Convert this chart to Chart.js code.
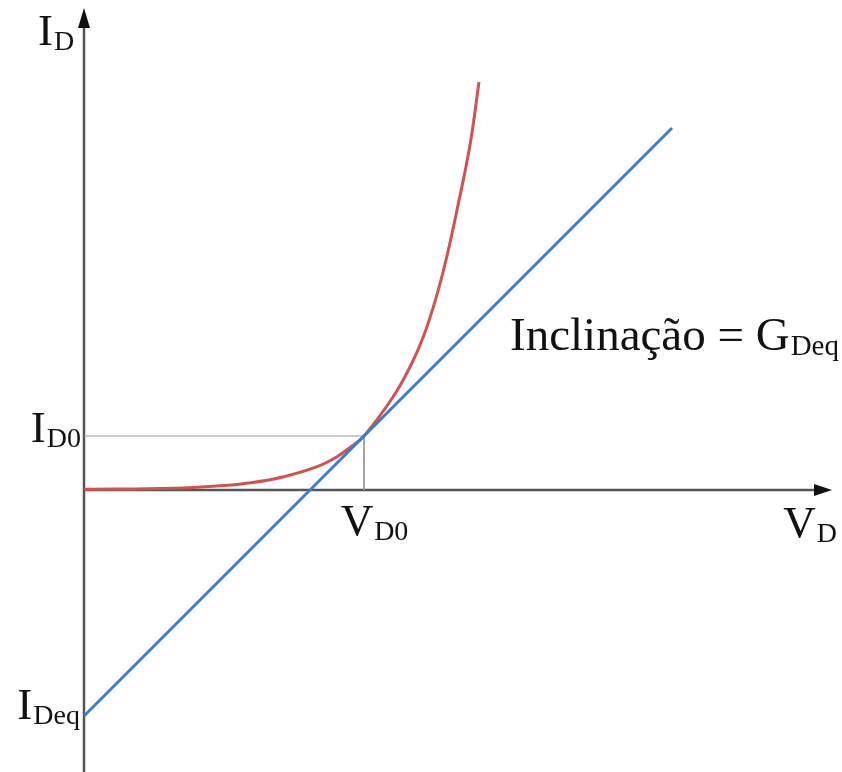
<!DOCTYPE html>
<html>
<head>
<meta charset="utf-8">
<script src="https://cdn.jsdelivr.net/npm/chart.js@4/dist/chart.umd.min.js"></script>
<style>
  html, body { margin: 0; padding: 0; background: #fff; }
  canvas { display: block; }
</style>
</head>
<body>
<canvas id="diodeChart" width="842" height="772"></canvas>
<script>
// Diode curve (units are arbitrary)
const curveV = [0, 90, 133, 167, 200, 233, 253, 267, 280, 309, 327, 340, 352, 362, 373, 386, 395];
const curveI = [0.7, 1.7, 4, 7.3, 13.3, 23.3, 33.3, 43.3, 54, 93, 125, 155, 192, 230, 280, 345, 408];

// Tangent line through the operating point
const tangentV = [0, 588];
const tangentI = [-226, 362];

// Operating point and intercept
const VD0 = 280;
const ID0 = 54;
const IDeq = -226;

// Axis ranges
const vRange = [0, 748];
const iRange = [-282, 480];

// Labels: [main, subscript]
const labelID = ['I', 'D'];
const labelVD = ['V', 'D'];
const labelID0 = ['I', 'D0'];
const labelVD0 = ['V', 'D0'];
const labelIDeq = ['I', 'Deq'];
const labelSlope = ['Inclinação = G', 'Deq'];

function toPoints(xs, ys) {
    return xs.map((x, i) => ({ x: x, y: ys[i] }));
}

const serif = '"Liberation Serif", "Times New Roman", serif';

// draws "main" + subscript, anchored at left/right/center and main baseline
function drawLabel(ctx, parts, x, y, align, size) {
    size = size || 45;
    const mainFont = size + 'px ' + serif;
    const subFont = Math.round(size * 0.62) + 'px ' + serif;
    ctx.font = mainFont;
    const w1 = ctx.measureText(parts[0]).width;
    ctx.font = subFont;
    const w2 = ctx.measureText(parts[1]).width;
    let left = x;
    if (align === 'right') left = x - w1 - w2 - 1;
    if (align === 'center') left = x - (w1 + w2) / 2;
    ctx.fillStyle = '#111';
    ctx.textBaseline = 'alphabetic';
    ctx.textAlign = 'left';
    ctx.font = mainFont;
    ctx.fillText(parts[0], left, y);
    ctx.font = subFont;
    ctx.fillText(parts[1], left + w1 + 1, y + 5);
}

const axesPlugin = {
    id: 'axesPlugin',
    beforeDatasetsDraw(chart) {
        const ctx = chart.ctx;
        const xs = chart.scales.x;
        const ys = chart.scales.y;
        const x0 = xs.getPixelForValue(0);
        const y0 = ys.getPixelForValue(0);
        const xEnd = xs.getPixelForValue(vRange[1]);
        const yTop = ys.getPixelForValue(iRange[1]);
        ctx.save();
        ctx.strokeStyle = '#555';
        ctx.fillStyle = '#111';
        ctx.lineWidth = 2.5;
        // vertical axis
        ctx.beginPath();
        ctx.moveTo(x0, chart.height);
        ctx.lineTo(x0, yTop + 14);
        ctx.stroke();
        ctx.beginPath();
        ctx.moveTo(x0, yTop - 2);
        ctx.lineTo(x0 - 6, yTop + 18);
        ctx.lineTo(x0 + 6, yTop + 18);
        ctx.closePath();
        ctx.fill();
        // horizontal axis
        ctx.beginPath();
        ctx.moveTo(x0, y0);
        ctx.lineTo(xEnd - 14, y0);
        ctx.stroke();
        ctx.beginPath();
        ctx.moveTo(xEnd, y0);
        ctx.lineTo(xEnd - 18, y0 - 6);
        ctx.lineTo(xEnd - 18, y0 + 6);
        ctx.closePath();
        ctx.fill();
        ctx.restore();
    },
    afterDraw(chart) {
        const ctx = chart.ctx;
        const xs = chart.scales.x;
        const ys = chart.scales.y;
        const x0 = xs.getPixelForValue(0);
        const y0 = ys.getPixelForValue(0);
        ctx.save();
        drawLabel(ctx, labelID, 38, ys.getPixelForValue(iRange[1]) + 35, 'left');
        drawLabel(ctx, labelVD, xs.getPixelForValue(vRange[1]) + 5, y0 + 47, 'right');
        drawLabel(ctx, labelID0, x0 - 3, ys.getPixelForValue(ID0) + 6, 'right');
        drawLabel(ctx, labelVD0, xs.getPixelForValue(VD0) + 10, y0 + 45, 'center');
        drawLabel(ctx, labelIDeq, x0 - 4, ys.getPixelForValue(IDeq) + 3, 'right');
        drawLabel(ctx, labelSlope, 510, 350, 'left', 47);
        ctx.restore();
    }
};

const ctx = document.getElementById('diodeChart').getContext('2d');
const chart = new Chart(ctx, {
    type: 'scatter',
    data: {
        datasets: [{
            label: 'Tangente',
            data: toPoints(tangentV, tangentI),
            showLine: true,
            borderColor: '#3d7cc9',
            borderWidth: 3,
            pointRadius: 0,
            order: 1
        }, {
            label: 'Diodo',
            data: toPoints(curveV, curveI),
            showLine: true,
            borderColor: '#d05353',
            borderWidth: 3,
            pointRadius: 0,
            tension: 0.4,
            order: 2
        }, {
            label: 'Referência',
            data: [{ x: 0, y: ID0 }, { x: VD0, y: ID0 }, { x: VD0, y: 0 }],
            showLine: true,
            borderColor: '#999',
            borderWidth: 1,
            pointRadius: 0,
            order: 3
        }]
    },
    options: {
        responsive: false,
        animation: false,
        devicePixelRatio: 1,
        layout: {
            padding: { left: 84, right: 10, top: 10, bottom: 0 }
        },
        plugins: {
            legend: { display: false },
            tooltip: { enabled: false }
        },
        scales: {
            x: { type: 'linear', min: vRange[0], max: vRange[1], display: false },
            y: { type: 'linear', min: iRange[0], max: iRange[1], display: false }
        }
    },
    plugins: [axesPlugin]
});
</script>
</body>
</html>
